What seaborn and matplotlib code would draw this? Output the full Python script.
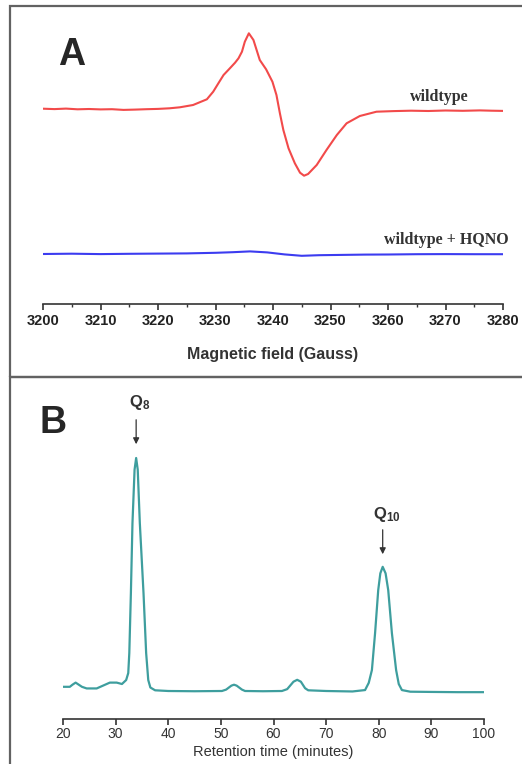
import pandas as pd
import matplotlib.pyplot as plt
import seaborn as sns
from matplotlib.patches import Rectangle
from matplotlib.ticker import MultipleLocator

# Panel A: EPR spectra (arbitrary units)
field_wt = [3200, 3202, 3204, 3206, 3208, 3210, 3212, 3214, 3216, 3218, 3220, 3222,
            3223.8, 3226.1, 3228.5, 3229.6, 3230.5, 3231.4, 3232.5, 3233.4, 3234.0, 3234.6,
            3235.1, 3235.8, 3236.6, 3237.7, 3238.8, 3239.9, 3240.6, 3241.2, 3241.8, 3242.7,
            3243.8, 3244.7, 3245.4, 3246.1, 3247.6, 3249.3, 3251.1, 3252.8, 3255.1, 3258.0,
            3261, 3264, 3267, 3270, 3273, 3276, 3278, 3280]
signal_wt = [0.8, 0.4, 0.9, 0.2, 0.5, 0.1, 0.3, -0.4, -0.1, 0.3, 0.6, 1.2,
             2.2, 4.5, 10.2, 17.8, 26.2, 34.5, 41.2, 46.8, 51.2, 57.8,
             67.8, 76.2, 69.5, 49.5, 40.2, 27.8, 14.5, -3.8, -20.5, -38.8,
             -53.8, -63.2, -66.2, -64.5, -55.5, -40.5, -25.5, -13.8, -6.5, -2.2,
             -1.6, -1.2, -1.5, -1.0, -1.3, -0.9, -1.2, -1.4]

field_hqno = [3200, 3205, 3210, 3215, 3220, 3225, 3230, 3233, 3236, 3239, 3242, 3245,
              3248, 3252, 3256, 3260, 3265, 3270, 3275, 3280]
signal_hqno = [0.0, 0.3, -0.1, 0.2, 0.4, 0.6, 1.2, 1.8, 2.6, 1.6, -0.4, -1.8,
               -1.2, -0.9, -0.6, -0.5, -0.2, -0.1, -0.2, -0.2]

# Panel B: HPLC chromatogram (relative absorbance, Q8 = 100)
time_min = [19.8, 21.3, 21.8, 22.4, 23.0, 23.6, 24.5, 26.4, 27.4, 28.9, 30.2, 31.2, 32.0,
            32.4, 32.6, 32.9, 33.2, 33.6, 33.9, 34.2, 34.6, 35.3, 35.8, 36.2, 36.6, 37.5,
            40, 45, 50.2, 51.0, 52.0, 52.5, 53.0, 54.0, 54.6, 58, 61.6, 62.6, 63.8, 64.5,
            65.2, 66.0, 66.6, 70, 75, 77.4, 78.1, 78.7, 79.3, 79.9, 80.3, 80.75, 81.3,
            81.8, 82.5, 83.3, 83.8, 84.4, 86, 90, 95, 100]
absorbance = [1.8, 1.8, 2.7, 3.6, 2.7, 1.8, 1.1, 1.1, 2.1, 3.6, 3.6, 3.0, 4.7,
              7.7, 16.3, 42, 72, 95, 100, 95, 72, 42, 16.3, 4.7, 1.5, 0.3,
              0, -0.1, 0, 0.6, 2.3, 2.7, 2.3, 0.6, 0, -0.1, 0, 0.8, 4.0, 4.8,
              4.0, 1.2, 0.3, 0, -0.2, 0.4, 3.5, 9, 24.8, 43.3, 50.5, 53.3, 50.5,
              43.3, 24.8, 9, 3.0, 0.4, -0.3, -0.4, -0.5, -0.5]

peak_labels = ["Q$_8$", "Q$_{10}$"]
peak_times = [33.9, 80.75]

sns.set_style("white")
plt.rcParams["font.family"] = ["Liberation Sans", "DejaVu Sans"]
plt.rcParams["mathtext.default"] = "regular"

W, H = 522, 764
fig = plt.figure(figsize=(W / 100, H / 100), dpi=100)


def px_box(left, top, right, bottom):
    return [left / W, 1 - bottom / H, (right - left) / W, (bottom - top) / H]


# panel frames
frame_col = "#626262"
fig.add_artist(Rectangle((10 / W, 1 - 377 / H), 1.2, 371 / H, transform=fig.transFigure,
                         fill=False, ec=frame_col, lw=1.6))
fig.add_artist(Rectangle((10 / W, -0.05), 1.2, 0.05 + 1 - 377 / H, transform=fig.transFigure,
                         fill=False, ec=frame_col, lw=1.6))

# ---- Panel A ----
axA = fig.add_axes(px_box(43, 20, 503, 304))
axA.patch.set_alpha(0)
sns.lineplot(x=field_wt, y=[s + 194.5 for s in signal_wt], ax=axA, color="#f24a4a", lw=1.5)
sns.lineplot(x=field_hqno, y=[s + 50 for s in signal_hqno], ax=axA, color="#3c3cf0", lw=1.5)
axA.set_xlim(3200, 3280)
axA.set_ylim(0, 284)
axA.xaxis.set_major_locator(MultipleLocator(10))
axA.xaxis.set_minor_locator(MultipleLocator(5))
axA.set_yticks([])
for s in ["top", "right", "left"]:
    axA.spines[s].set_visible(False)
axA.spines["bottom"].set_color("#333333")
axA.spines["bottom"].set_linewidth(1.2)
axA.tick_params(axis="x", which="major", bottom=True, length=4, width=1.2, color="#333333",
                pad=3, labelsize=10.5, labelcolor="#222222")
axA.tick_params(axis="x", which="minor", bottom=True, length=2.5, width=1.0, color="#333333")
for lab in axA.get_xticklabels():
    lab.set_fontweight("bold")
axA.set_xlabel("Magnetic field (Gauss)", fontsize=11.5, fontweight="bold", color="#333333")
axA.xaxis.label.set_va("center")
axA.xaxis.set_label_coords(0.5, -(354 - 304) / 284)
axA.text(3269.0, 207, "wildtype", ha="center", va="center", fontsize=11.5,
         fontweight="bold", family=["Liberation Serif"], color="#333333")
axA.text(3270.1, 64, "wildtype + HQNO", ha="center", va="center", fontsize=11.5,
         fontweight="bold", family=["Liberation Serif"], color="#333333")
fig.text(72 / W, 1 - 55 / H, "A", fontsize=27, fontweight="bold", ha="center", va="center")

# ---- Panel B ----
axB = fig.add_axes(px_box(63, 400, 484, 719))
axB.patch.set_alpha(0)
df = pd.DataFrame({"time": time_min, "abs": absorbance})
sns.lineplot(data=df, x="time", y="abs", ax=axB, color="#3e9e9e", lw=1.6)
axB.set_xlim(20, 100)
axB.set_ylim(-(719 - 691) / 2.33, (691 - 400) / 2.33)
axB.xaxis.set_major_locator(MultipleLocator(10))
axB.set_yticks([])
axB.set_ylabel("")
for s in ["top", "right", "left"]:
    axB.spines[s].set_visible(False)
axB.spines["bottom"].set_color("#333333")
axB.spines["bottom"].set_linewidth(1.2)
axB.tick_params(axis="x", bottom=True, length=4, width=1.2, color="#333333", pad=2,
                labelsize=10, labelcolor="#333333")
axB.set_xlabel("Retention time (minutes)", fontsize=10.5, color="#333333")
axB.xaxis.label.set_va("center")
axB.xaxis.set_label_coords(0.5, -(752 - 719) / 319)

label_y = [(691 - 402) / 2.33, (691 - 515) / 2.33]
arrow_top = [(691 - 417) / 2.33, (691 - 527) / 2.33]
arrow_tip = [(691 - 447) / 2.33, (691 - 557) / 2.33]
for lab, t, ly, at, ab in zip(peak_labels, peak_times, label_y, arrow_top, arrow_tip):
    axB.text(t + 0.7, ly, lab, ha="center", va="center", fontsize=12, fontweight="bold",
             color="#333333")
    axB.annotate("", xy=(t, ab), xytext=(t, at),
                 arrowprops=dict(arrowstyle="-|>", color="#333333", lw=0.9, mutation_scale=9))
fig.text(53 / W, 1 - 423 / H, "B", fontsize=27, fontweight="bold", ha="center", va="center")

fig.savefig("out.png", dpi=100)
